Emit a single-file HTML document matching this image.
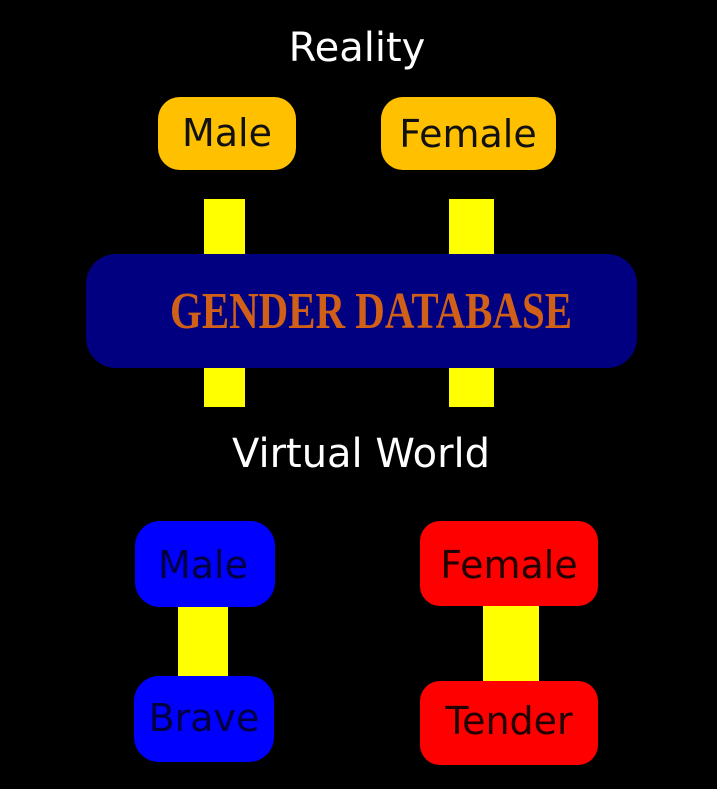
<!DOCTYPE html>
<html><head><style>html,body{margin:0;padding:0;background:#000;}svg{display:block}</style></head>
<body>
<svg width="717" height="789" viewBox="0 0 717 789" xmlns="http://www.w3.org/2000/svg">
<rect width="717" height="789" fill="#000"/>
<g font-family="DejaVu Sans, Liberation Sans, sans-serif" text-anchor="middle">
<text x="357" y="61" font-size="40" fill="#fff">Reality</text>
<rect x="158" y="97" width="138" height="73" rx="22" fill="#ffc000"/>
<text x="227" y="146" font-size="38" fill="#111">Male</text>
<rect x="381" y="97" width="175" height="73" rx="22" fill="#ffc000"/>
<text x="468" y="147" font-size="38" fill="#111">Female</text>
<rect x="204" y="199" width="41" height="55" fill="#ffff00"/>
<rect x="449" y="199" width="45" height="55" fill="#ffff00"/>
<rect x="204" y="367" width="41" height="40" fill="#ffff00"/>
<rect x="449" y="367" width="45" height="40" fill="#ffff00"/>
<rect x="86" y="254" width="551" height="114" rx="30" fill="#000080"/>
<text x="371" y="328" font-size="52" font-weight="bold" font-family="Liberation Serif, serif" fill="#d06018" textLength="402" lengthAdjust="spacingAndGlyphs">GENDER DATABASE</text>
<text x="361" y="467" font-size="40" fill="#fff">Virtual World</text>
<rect x="178" y="600" width="50" height="82" fill="#ffff00"/>
<rect x="483" y="600" width="56" height="86" fill="#ffff00"/>
<rect x="135" y="521" width="140" height="86" rx="25" fill="#0000ff"/>
<text x="203" y="578" font-size="38" fill="#000040">Male</text>
<rect x="134" y="676" width="140" height="86" rx="25" fill="#0000ff"/>
<text x="204" y="731" font-size="38" fill="#000040">Brave</text>
<rect x="420" y="521" width="178" height="85" rx="20" fill="#ff0000"/>
<text x="509" y="578" font-size="38" fill="#200000">Female</text>
<rect x="420" y="681" width="178" height="84" rx="20" fill="#ff0000"/>
<text x="509" y="734" font-size="38" fill="#200000">Tender</text>
</g>
</svg>
</body></html>
